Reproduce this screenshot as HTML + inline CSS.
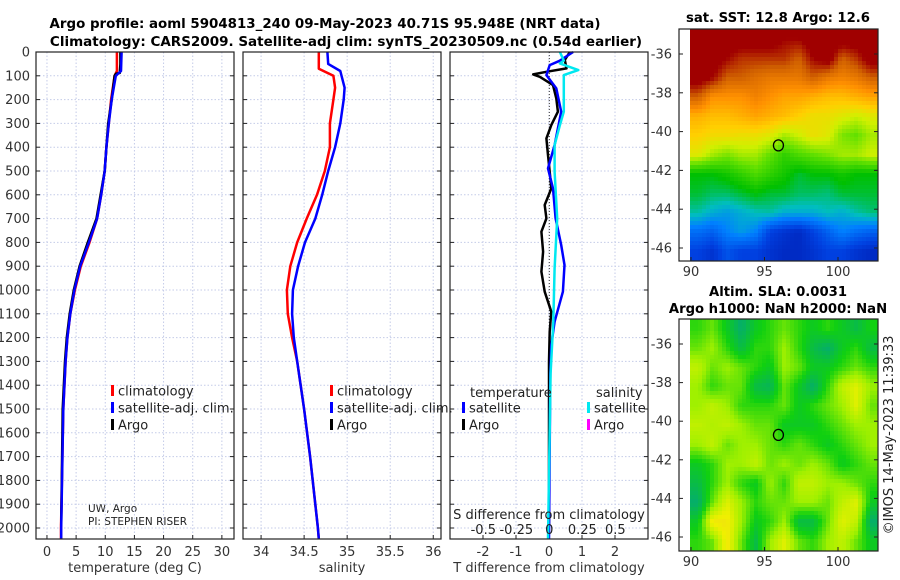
<!DOCTYPE html>
<html><head><meta charset="utf-8"><style>
html,body{margin:0;padding:0;background:#fff;}
svg{display:block;font-family:"DejaVu Sans","Liberation Sans",sans-serif;}
</style></head><body>
<svg id="fig" width="900" height="580" viewBox="0 0 900 580" xmlns="http://www.w3.org/2000/svg">
<text x="325" y="28" text-anchor="middle" font-size="13.4" font-weight="bold">Argo profile: aoml 5904813_240 09-May-2023 40.71S 95.948E (NRT data)</text>
<text x="346" y="46" text-anchor="middle" font-size="13.5" font-weight="bold">Climatology: CARS2009. Satellite-adj clim: synTS_20230509.nc (0.54d earlier)</text>
<text x="778" y="22" text-anchor="middle" font-size="13.2" font-weight="bold">sat. SST: 12.8 Argo: 12.6</text>
<text x="778" y="296" text-anchor="middle" font-size="13.2" font-weight="bold">Altim. SLA: 0.0031</text>
<text x="778" y="313" text-anchor="middle" font-size="13.2" font-weight="bold">Argo h1000: NaN h2000: NaN</text>
<text transform="translate(893,435) rotate(-90)" text-anchor="middle" font-size="13" fill="#222">©IMOS 14-May-2023 11:39:33</text>
<text x="88" y="512" font-size="10.5" fill="#222">UW, Argo</text>
<text x="88" y="525" font-size="10.5" fill="#222">PI: STEPHEN RISER</text>
</svg>
<script>
// ---------- data ----------
const depthTicks=[0,100,200,300,400,500,600,700,800,900,1000,1100,1200,1300,1400,1500,1600,1700,1800,1900,2000];
const tempTicks=[0,5,10,15,20,25,30];
const salTicks=[34,34.5,35,35.5,36];
const tdiffTicks=[-2,-1,0,1,2];
const sdiffTicks=[-0.5,-0.25,0,0.25,0.5];
const sdiffTickLabels=["-0.5","-0.25","0","0.25","0.5"];

const tArgoDepth=[0,50,88,92,100,200,300,400,500,600,700,800,900,1000,1100,1200,1300,1500,1990];
const tArgo=[12.6,12.6,12.5,11.8,11.6,11.1,10.5,10.2,9.9,9.2,8.5,7.0,5.6,4.6,3.9,3.4,3.1,2.7,2.45];
const tClimDepth=[0,80,100,200,300,400,500,600,700,800,900,1000,1100,1200,1300,1500,2000,2046];
const tClim=[12.0,12.0,11.6,11.0,10.6,10.2,9.9,9.3,8.6,7.3,5.8,4.8,4.0,3.5,3.2,2.8,2.4,2.4];
const tSat=[12.8,12.7,11.8,11.1,10.6,10.2,9.9,9.3,8.6,7.2,5.7,4.7,4.0,3.5,3.2,2.8,2.45,2.45];

const sClimDepth=[0,70,100,150,200,300,400,500,600,700,800,900,1000,1100,1200,1300,1500,1700,2000,2046];
const sClim=[34.67,34.67,34.84,34.86,34.84,34.80,34.80,34.74,34.65,34.53,34.42,34.34,34.30,34.31,34.36,34.42,34.50,34.57,34.66,34.67];
const sSatDepth=[0,50,80,150,200,300,400,500,600,700,800,900,1000,1100,1200,1300,1500,1700,2000,2046];
const sSat=[34.77,34.78,34.92,34.97,34.96,34.92,34.86,34.78,34.71,34.63,34.51,34.43,34.37,34.36,34.38,34.42,34.50,34.57,34.66,34.67];

const dArgoDepth=[0,33,69,83,94,104,139,195,251,307,363,433,503,573,643,699,755,839,923,1007,1091,1175,1301,1990];
const dArgoT=[0.63,0.48,0.53,-0.08,-0.48,-0.28,0.12,0.22,0.27,0.07,-0.08,-0.03,0.02,0.07,-0.13,-0.08,-0.23,-0.18,-0.23,-0.13,0.07,0.02,0,0];
const dSatDepth=[0,37,55,97,153,251,321,391,489,573,699,811,895,1007,1133,1231,1350,2046];
const dSatT=[0.73,0.32,0.02,-0.08,0.22,0.37,0.27,0.17,-0.03,0.12,0.2,0.37,0.47,0.42,0.17,0.07,0.04,0.0];
const dSalDepth=[0,36,48,76,97,153,251,307,391,503,699,909,1133,1350,2046];
const dSatS=[0.08,0.11,0.08,0.22,0.11,0.11,0.11,0.08,0.04,0.04,0.06,0.04,0.03,0.01,-0.01];

const sstGrid=[
[1,1,1,1,1,1,.95,.95,1,1,1,1,1],
[1,1,.95,.9,.9,.9,.9,.85,.95,1,.85,.9,1],
[1,.95,.85,.85,.82,.8,.8,.8,.85,.8,.78,.8,.85],
[.85,.75,.75,.75,.78,.75,.72,.72,.7,.68,.68,.7,.72],
[.7,.68,.68,.7,.72,.7,.68,.65,.62,.62,.6,.58,.6],
[.65,.63,.63,.62,.62,.6,.55,.58,.62,.6,.52,.5,.55],
[.6,.55,.52,.55,.55,.5,.45,.48,.5,.52,.55,.55,.58],
[.4,.4,.42,.45,.48,.45,.42,.38,.4,.4,.42,.4,.4],
[.38,.36,.36,.38,.4,.38,.38,.36,.36,.35,.38,.38,.38],
[.33,.3,.28,.3,.32,.33,.3,.3,.3,.32,.3,.33,.35],
[.22,.2,.25,.28,.25,.15,.12,.1,.15,.2,.25,.22,.2],
[.15,.12,.18,.15,.15,.12,.1,.1,.12,.15,.15,.12,.1]];
const slaGrid=[
[.4,.5,.3,.1,.3,.4,.5,.4,.3,.4,.3,.2,.35],
[.5,.6,.4,.2,.4,.4,.6,.4,.2,.1,.3,.4,.2],
[.7,.5,.6,.5,.4,.3,.6,.5,.3,.3,.4,.5,.4],
[.6,.4,.5,.5,.2,.15,.5,.3,.1,.4,.7,.8,.6],
[.6,.7,.6,.4,.4,.4,.5,.3,.4,.5,.6,.8,.5],
[.7,.65,.7,.6,.5,.5,.3,.3,.3,.4,.5,.6,.6],
[.6,.7,.5,.6,.6,.5,.4,.5,.4,.3,.4,.5,.6],
[.3,.4,.6,.6,.7,.5,.6,.5,.6,.5,.3,.4,.5],
[.2,.4,.6,.4,.3,.6,.4,.7,.7,.6,.6,.5,.4],
[.1,.5,.8,.6,.4,.5,.5,.6,.6,.5,.7,.8,.3],
[.3,.9,.9,.6,.3,.4,.6,.2,.2,.5,.8,.7,.1],
[.4,.5,.9,.5,.2,.6,.8,.5,.4,.6,.7,.5,.3]];
const lonTicks=[90,95,100];
const latTicks=[-36,-38,-40,-42,-44,-46];
const argoLon=95.948, argoLat=-40.71;

// ---------- helpers ----------
const svg=document.getElementById('fig');
const NS='http://www.w3.org/2000/svg';
function mk(tag,attrs,parent){const e=document.createElementNS(NS,tag);for(const k in attrs)e.setAttribute(k,attrs[k]);(parent||svg).appendChild(e);return e;}
const Y0=52,Y1=539,DPX=0.238;
const yD=d=>Y0+d*DPX;

function panel(x0,x1,xmin,xmax,ticks,labels,name){
  const g=mk('g',{});
  
  
  const sx=v=>x0+(v-xmin)/(xmax-xmin)*(x1-x0);
  ticks.forEach(t=>{const l=mk('line',{x1:sx(t),x2:sx(t),y1:Y0,y2:Y1,stroke:'#c4cbe8','stroke-width':1,'stroke-dasharray':'1.5,2'},g);
    });
  depthTicks.forEach(d=>{const l=mk('line',{x1:x0,x2:x1,y1:yD(d),y2:yD(d),stroke:'#c4cbe8','stroke-width':1,'stroke-dasharray':'1.5,2'},g);
    
    mk('line',{x1:x0,x2:x0+4,y1:yD(d),y2:yD(d),stroke:'#222'},g);mk('line',{x1:x1,x2:x1-4,y1:yD(d),y2:yD(d),stroke:'#222'},g);});
  if(labels){ticks.forEach((t,i)=>{mk('line',{x1:sx(t),x2:sx(t),y1:Y1,y2:Y1-4,stroke:'#222'},g);
    const tx=mk('text',{x:sx(t),y:556,'text-anchor':'middle','font-size':13,fill:'#333'},g);tx.textContent=labels[i];
    });}
  return {g,sx};
}
function line(g,sx,xs,ds,color,w,name){
  const p=mk('polyline',{points:xs.map((v,i)=>sx(v).toFixed(1)+','+yD(ds[i]).toFixed(1)).join(' '),fill:'none',stroke:color,'stroke-width':w,'stroke-linejoin':'round'},g);
  
}
function frame(g,x0,x1,y0,y1){mk('rect',{x:x0,y:y0,width:x1-x0,height:y1-y0,fill:'none',stroke:'#222','stroke-width':1.2},g);}
function legend(g,x,y,color,label,name){
  mk('rect',{x:x,y:y-7,width:3,height:11,fill:color},g);
  const t=mk('text',{x:x+7,y:y+3.5,'font-size':13,fill:'#222'},g);t.textContent=label;
  
}

depthTicks.forEach(d=>{const t=mk('text',{x:30,y:yD(d)+4.5,'text-anchor':'end','font-size':13,fill:'#333'});t.textContent=d;
  });

const P1=panel(36,234,-1.88,32.08,tempTicks,tempTicks.map(String),'temperature-panel');
line(P1.g,P1.sx,tClim,tClimDepth,'#ff0000',2.5,'temperature-climatology-line');
line(P1.g,P1.sx,tArgo,tArgoDepth,'#000',2.5,'temperature-argo-line');
line(P1.g,P1.sx,tSat,tClimDepth,'#0000ff',2.5,'temperature-satellite-line');
frame(P1.g,36,234,Y0,Y1);
legend(P1.g,111,392,'#ff0000','climatology','legend-climatology');
legend(P1.g,111,409,'#0000ff','satellite-adj. clim.','legend-satellite-adj');
legend(P1.g,111,426,'#000','Argo','legend-argo');
let xl=mk('text',{x:135,y:572,'text-anchor':'middle','font-size':13,fill:'#333'});xl.textContent='temperature (deg C)';


const P2=panel(243,441,33.79,36.09,salTicks,salTicks.map(String),'salinity-panel');
line(P2.g,P2.sx,sClim,sClimDepth,'#ff0000',2.5,'salinity-climatology-line');
line(P2.g,P2.sx,sSat,sSatDepth,'#0000ff',2.5,'salinity-satellite-line');
frame(P2.g,243,441,Y0,Y1);
legend(P2.g,330,392,'#ff0000','climatology','legend-climatology-sal');
legend(P2.g,330,409,'#0000ff','satellite-adj. clim.','legend-satellite-adj-sal');
legend(P2.g,330,426,'#000','Argo','legend-argo-sal');
xl=mk('text',{x:342,y:572,'text-anchor':'middle','font-size':13,fill:'#333'});xl.textContent='salinity';


const P3=panel(450,648,-3,3,tdiffTicks,tdiffTicks.map(String),'difference-panel');
const sxS=v=>549.3+v*132;
mk('line',{x1:549.3,x2:549.3,y1:Y0,y2:Y1,stroke:'#333','stroke-width':1,'stroke-dasharray':'1,2'},P3.g);
line(P3.g,P3.sx,dArgoT,dArgoDepth,'#000',2.5,'tdiff-argo-line');
line(P3.g,P3.sx,dSatT,dSatDepth,'#0000ff',2.5,'tdiff-satellite-line');
line(P3.g,sxS,dSatS,dSalDepth,'#00e8f0',2.5,'sdiff-satellite-line');
frame(P3.g,450,648,Y0,Y1);
legend(P3.g,462,409,'#0000ff','satellite','legend-t-satellite');
legend(P3.g,462,426,'#000','Argo','legend-t-argo');
legend(P3.g,587,409,'#00e8f0','satellite','legend-s-satellite');
legend(P3.g,587,426,'#ff00ff','Argo','legend-s-argo');
let tt=mk('text',{x:470,y:397,'font-size':13,fill:'#222'},P3.g);tt.textContent='temperature';

tt=mk('text',{x:596,y:397,'font-size':13,fill:'#222'},P3.g);tt.textContent='salinity';

tt=mk('text',{x:549,y:519,'text-anchor':'middle','font-size':13,fill:'#222'},P3.g);tt.textContent='S difference from climatology';

sdiffTicks.forEach((v,i)=>{const t=mk('text',{x:sxS(v),y:534,'text-anchor':'middle','font-size':13,fill:'#222'},P3.g);t.textContent=sdiffTickLabels[i];
  });
xl=mk('text',{x:549,y:572,'text-anchor':'middle','font-size':13,fill:'#333'});xl.textContent='T difference from climatology';


function cmap(stops,v){v=Math.max(0,Math.min(1,v));for(let i=1;i<stops.length;i++){if(v<=stops[i][0]){const a=stops[i-1],b=stops[i],f=(v-a[0])/(b[0]-a[0]);
  return 'rgb('+[0,1,2].map(k=>Math.round(a[1][k]+(b[1][k]-a[1][k])*f)).join(',')+')';}}return 'rgb('+stops[stops.length-1][1].join(',')+')';}
const sstStops=[[0,[0,0,140]],[0.15,[0,64,224]],[0.25,[0,128,255]],[0.32,[0,190,190]],[0.4,[0,192,0]],[0.5,[96,224,0]],[0.58,[208,240,0]],[0.65,[255,208,0]],[0.75,[255,144,0]],[0.85,[208,96,0]],[0.95,[160,0,0]],[1,[160,0,0]]];
const slaStops=[[0,[0,160,144]],[0.35,[16,208,16]],[0.6,[160,240,0]],[0.85,[240,240,0]],[1,[240,208,32]]];
function map(grid,stops,yTop,yBot,latAt36,latAt46,name){
  const g=mk('g',{});
  const x0=679,x1=878,xc=690;
  const lonX=l=>691+(l-90)*14.7;
  const latY=l=>latAt36+(-36-l)*(latAt46-latAt36)/10;
  const latTop=-36-(yTop-latAt36)/((latAt46-latAt36)/10), latBot=-36-(yBot-latAt36)/((latAt46-latAt36)/10);
  const lonR=90+(x1-691)/14.7;
  const nr=grid.length,nc=grid[0].length,cs=4;
  for(let y=yTop;y<yBot;y+=cs){for(let x=xc;x<x1;x+=cs){
    const lat=-36-(y+cs/2-latAt36)/((latAt46-latAt36)/10), lon=90+(x+cs/2-691)/14.7;
    let r=(latTop-lat)/(latTop-latBot)*nr-0.5, c=(lon-90)/(lonR-90)*nc-0.5;
    r=Math.max(0,Math.min(nr-1.001,r));c=Math.max(0,Math.min(nc-1.001,c));
    const r0=Math.floor(r),c0=Math.floor(c),fr=r-r0,fc=c-c0;
    const v=grid[r0][c0]*(1-fr)*(1-fc)+grid[r0][c0+1]*(1-fr)*fc+grid[r0+1][c0]*fr*(1-fc)+grid[r0+1][c0+1]*fr*fc;
    mk('rect',{x:x,y:y,width:Math.min(cs,x1-x)+0.3,height:Math.min(cs,yBot-y)+0.3,fill:cmap(stops,v)},g);}}
  mk('rect',{x:x0,y:yTop,width:x1-x0,height:yBot-yTop,fill:'none',stroke:'#222','stroke-width':1.2},g);
  latTicks.forEach(l=>{mk('line',{x1:x0,x2:x0+4,y1:latY(l),y2:latY(l),stroke:'#222'},g);mk('line',{x1:x1,x2:x1-4,y1:latY(l),y2:latY(l),stroke:'#222'},g);
    const t=mk('text',{x:672,y:latY(l)+4.5,'text-anchor':'end','font-size':13,fill:'#333'},g);t.textContent=l;
    });
  lonTicks.forEach(l=>{mk('line',{x1:lonX(l),x2:lonX(l),y1:yBot,y2:yBot-4,stroke:'#222'},g);
    const t=mk('text',{x:lonX(l),y:yBot+15,'text-anchor':'middle','font-size':13,fill:'#333'},g);t.textContent=l;
    });
  const m=mk('ellipse',{cx:lonX(argoLon),cy:latY(argoLat),rx:5,ry:5.5,fill:'none',stroke:'#000','stroke-width':1.3},g);
  
}
map(sstGrid,sstStops,29,261,54,248,'sst-map');
map(slaGrid,slaStops,319,551,344,537,'sla-map');
</script>
</body></html>
